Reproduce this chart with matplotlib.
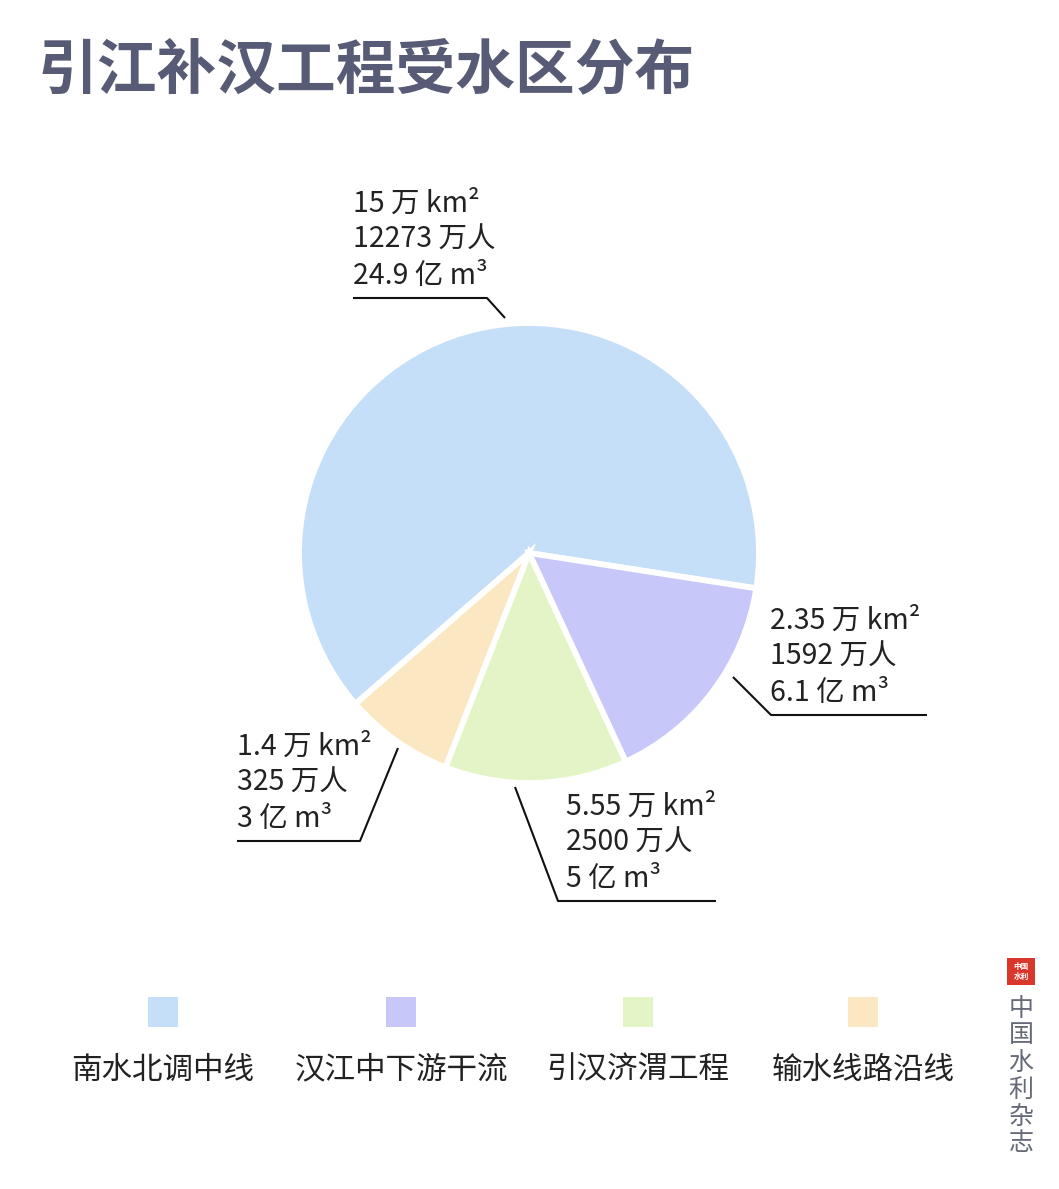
import matplotlib.pyplot as plt
import matplotlib.patches as mpatches

plt.rcParams['font.family'] = ['Noto Sans CJK SC', 'DejaVu Sans']

W, H = 1059, 1189

title = '引江补汉工程受水区分布'
regions = ['南水北调中线', '汉江中下游干流', '引汉济渭工程', '输水线路沿线']
area = ['15', '2.35', '5.55', '1.4']          # 万 km²
people = ['12273', '1592', '2500', '325']      # 万人
water = [24.9, 6.1, 5, 3]                      # 亿 m³
colors = ['#c6dff9', '#c8c7fa', '#e3f5c6', '#fce7c3']

# label layout (pixels, top-left origin): text x, first line y, leader polyline
label_text = [(353, 204), (770, 621), (566, 807), (237, 747)]
leaders = [
    [(353, 298), (487, 298), (505, 318)],
    [(733, 677), (771, 715), (927, 715)],
    [(515, 787), (558, 901), (716, 901)],
    [(398, 748), (360, 841), (237, 841)],
]
legend_x = [163, 401, 638, 863]


def Y(p):
    return H - p


fig = plt.figure(figsize=(W / 100, H / 100), dpi=100)
ax = fig.add_axes([0, 0, 1, 1])

# pie
ax.pie(water, colors=colors, center=(529, Y(553)), radius=230,
       startangle=221, counterclock=False,
       wedgeprops=dict(edgecolor='white', linewidth=4.2), frame=True)
ax.set_xlim(0, W)
ax.set_ylim(0, H)
ax.set_aspect('equal')
ax.axis('off')

# title
ax.text(38, Y(71), title, fontsize=43, fontweight='heavy', color='#575b76',
        va='center', ha='left')

# labels
for i in range(len(water)):
    tx, ty = label_text[i]
    lines = [area[i] + ' 万 km²', people[i] + ' 万人', '%g 亿 m³' % water[i]]
    for j, s in enumerate(lines):
        ax.text(tx, Y(ty + j * 36), s, fontsize=20.5, fontweight='light',
                color='#222222', va='center', ha='left')
    xs = [p[0] for p in leaders[i]]
    ys = [Y(p[1]) for p in leaders[i]]
    ax.plot(xs, ys, color='#111111', lw=1.5, solid_capstyle='butt')

# legend
for i in range(len(regions)):
    ax.add_patch(mpatches.Rectangle((legend_x[i] - 15, Y(1027)), 30, 30,
                                    color=colors[i], lw=0))
    ax.text(legend_x[i], Y(1070), regions[i], fontsize=22, color='#222222',
            ha='center', va='center')

# watermark
ax.add_patch(mpatches.Rectangle((1007, Y(985)), 28, 27, color='#d9362c', lw=0))
ax.text(1021, Y(971.5), '中国\n水利', fontsize=5.5, fontweight='bold', color='white',
        ha='center', va='center', linespacing=1.0)
ax.text(1021, Y(1076), '\n'.join('中国水利杂志'), fontsize=18, color='#666a78',
        ha='center', va='center', linespacing=1.05)

fig.savefig('out.png', dpi=100, facecolor='white')
